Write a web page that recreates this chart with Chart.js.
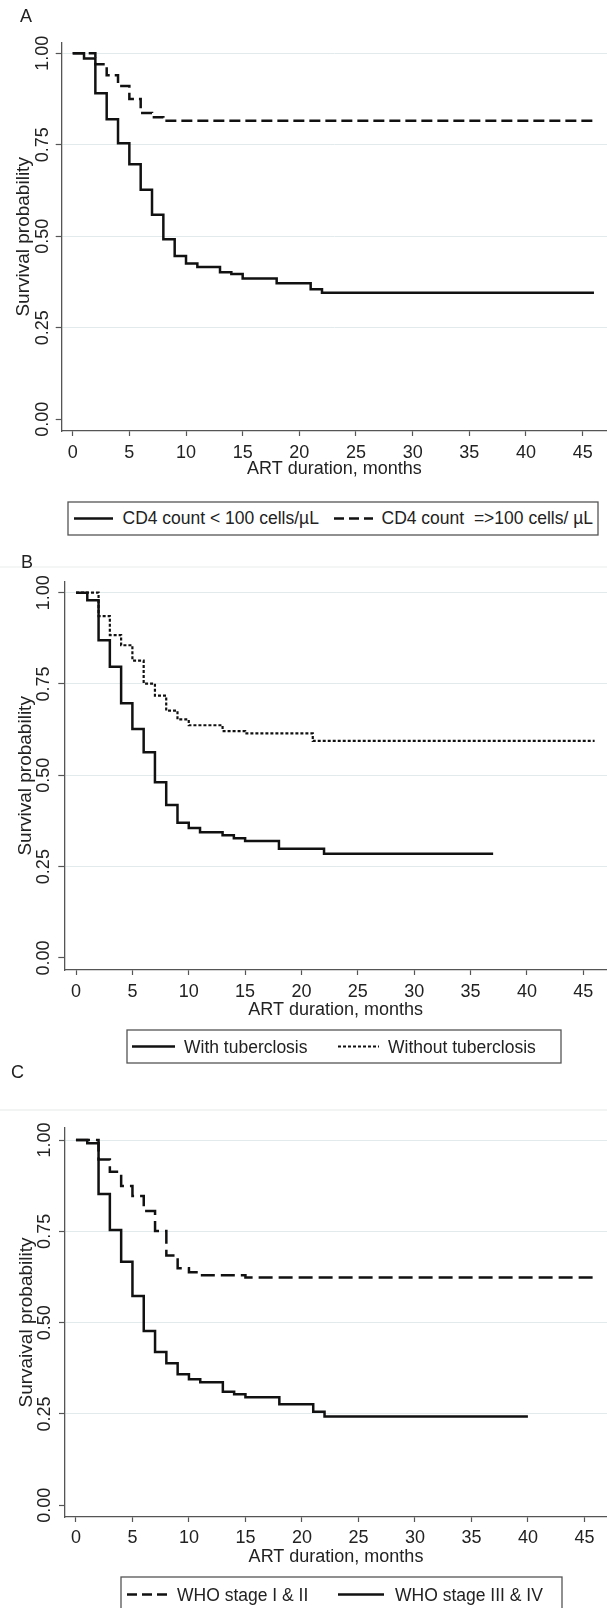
<!DOCTYPE html>
<html>
<head>
<meta charset="utf-8">
<script src="https://cdn.jsdelivr.net/npm/chart.js@4/dist/chart.umd.min.js"></script>
<style>
html,body{margin:0;padding:0;background:#fff;}
body{width:607px;height:1608px;position:relative;overflow:hidden;font-family:"Liberation Sans",Arial,sans-serif;color:#222;}
canvas{position:absolute;left:0;}
.t{position:absolute;font-size:17.5px;line-height:20px;height:20px;white-space:pre;color:#222;}
svg{position:absolute;left:0;top:0;pointer-events:none;}
</style>
</head>
<body>
<script>
// ---------- data ----------
const xTicks = [0, 5, 10, 15, 20, 25, 30, 35, 40, 45];
const yTicks = [0, 0.25, 0.5, 0.75, 1];
const yTickLabels = ['0.00', '0.25', '0.50', '0.75', '1.00'];
const xTitle = 'ART duration, months';

// Panel A
const cd4Low_t = [0, 1, 2, 3, 4, 5, 6, 7, 8, 9, 10, 11, 13, 14, 15, 18, 21, 22, 46];
const cd4Low_s = [1, 0.986, 0.891, 0.820, 0.754, 0.697, 0.627, 0.559, 0.492, 0.446, 0.426, 0.416, 0.402, 0.397, 0.385, 0.372, 0.355, 0.346, 0.346];
const cd4High_t = [0, 2, 3, 4, 5, 6, 7, 8, 46];
const cd4High_s = [1, 0.970, 0.940, 0.911, 0.875, 0.837, 0.825, 0.816, 0.816];
const legendA = ['CD4 count < 100 cells/\u00b5L', 'CD4 count  =>100 cells/ \u00b5L'];

// Panel B
const withTB_t = [0, 1, 2, 3, 4, 5, 6, 7, 8, 9, 10, 11, 13, 14, 15, 18, 22, 37];
const withTB_s = [1, 0.979, 0.870, 0.797, 0.697, 0.627, 0.563, 0.481, 0.419, 0.370, 0.356, 0.344, 0.336, 0.328, 0.320, 0.299, 0.285, 0.285];
const withoutTB_t = [0, 2, 3, 4, 5, 6, 7, 8, 9, 10, 13, 15, 21, 46];
const withoutTB_s = [1, 0.936, 0.884, 0.856, 0.814, 0.751, 0.718, 0.677, 0.653, 0.637, 0.621, 0.615, 0.594, 0.594];
const legendB = ['With tuberclosis', 'Without tuberclosis'];

// Panel C
const who12_t = [0, 2, 3, 4, 5, 6, 7, 8, 9, 10, 11, 15, 46];
const who12_s = [1, 0.947, 0.913, 0.874, 0.847, 0.806, 0.751, 0.684, 0.649, 0.638, 0.630, 0.624, 0.624];
const who34_t = [0, 1, 2, 3, 4, 5, 6, 7, 8, 9, 10, 11, 13, 14, 15, 18, 21, 22, 40];
const who34_s = [1, 0.991, 0.852, 0.754, 0.667, 0.573, 0.477, 0.420, 0.389, 0.359, 0.345, 0.337, 0.311, 0.304, 0.296, 0.277, 0.256, 0.243, 0.243];
const legendC = ['WHO stage I & II', 'WHO stage III & IV'];

const yTitles = ['Survival probability', 'Survival probability', 'Survaival probability'];
const panelLetters = ['A', 'B', 'C'];

// ---------- styles / layout ----------
const FONT = '"Liberation Sans", Arial, sans-serif';
const TXT = '#222';
const AXIS = '#555';
const GRID = '#e2eaec';
const INK = '#111';
const FS = 18;      // tick / axis-title font size
const FS_YT = 19;   // y title font size

function pts(t, s) { return t.map((v, i) => ({ x: v, y: s[i] })); }
function ds(t, s, dash, w) {
  return { data: pts(t, s), borderColor: INK, borderWidth: w || 2.5, borderDash: dash || [],
    stepped: 'before', pointRadius: 0, fill: false, borderCapStyle: 'butt', borderJoinStyle: 'miter' };
}

const panels = [
  { top: 0, chartTop: 42.7, chartBottom: 431, chartLeft: 61.7, xMin: -0.97, xMax: 47.15, yMin: -0.032, yMax: 1.029,
    tickY: 453, titleY: 469.5, yLabelX: 43, yTitleX: 24,
    datasets: [ds(cd4Low_t, cd4Low_s), ds(cd4High_t, cd4High_s, [11, 5])] },
  { top: 540, chartTop: 581.7, chartBottom: 970, chartLeft: 64.3, xMin: -1.04, xMax: 47.1, yMin: -0.033, yMax: 1.030,
    tickY: 992, titleY: 1010.5, yLabelX: 44, yTitleX: 26,
    datasets: [ds(withTB_t, withTB_s), ds(withoutTB_t, withoutTB_s, [3, 2], 2.2)] },
  { top: 1080, chartTop: 1128, chartBottom: 1517, chartLeft: 65, xMin: -0.97, xMax: 47.0, yMin: -0.032, yMax: 1.033,
    tickY: 1538, titleY: 1557, yLabelX: 45, yTitleX: 27,
    datasets: [ds(who12_t, who12_s, [14, 6]), ds(who34_t, who34_s)] }
];

panels.forEach((p, k) => {
  const bottom = p.titleY + 16;
  const H = Math.round(bottom - p.top);
  const c = document.createElement('canvas');
  c.width = 607; c.height = H;
  c.style.top = p.top + 'px'; c.style.width = '607px'; c.style.height = H + 'px';
  document.body.appendChild(c);
  const realBottom = p.top + H;
  const xScaleH = realBottom - p.chartBottom;
  const lh = FS * 1.2;
  new Chart(c, {
    type: 'line',
    data: { datasets: p.datasets },
    options: {
      responsive: false, animation: false, devicePixelRatio: 1,
      layout: { padding: { top: p.chartTop - p.top, left: 0, right: 0, bottom: 0 } },
      plugins: { legend: { display: false }, tooltip: { enabled: false } },
      elements: { point: { radius: 0 }, line: { tension: 0 } },
      scales: {
        x: {
          type: 'linear', min: p.xMin, max: p.xMax,
          afterBuildTicks: s => { s.ticks = xTicks.map(v => ({ value: v })); },
          afterFit: s => { s.height = xScaleH; },
          grid: { drawOnChartArea: false, drawTicks: true, tickLength: 5, tickColor: AXIS, tickWidth: 1.2 },
          border: { display: true, color: AXIS, width: 1.3 },
          ticks: { padding: p.tickY - p.chartBottom - 5 - lh / 2, font: { size: FS, family: FONT }, color: TXT,
            minRotation: 0, maxRotation: 0, autoSkip: false, callback: v => String(v) },
          title: { display: true, text: xTitle, font: { size: FS, family: FONT }, color: TXT,
            padding: { top: 0, bottom: realBottom - p.titleY - lh / 2 } }
        },
        y: {
          type: 'linear', min: p.yMin, max: p.yMax,
          afterBuildTicks: s => { s.ticks = yTicks.map(v => ({ value: v })); },
          afterFit: s => { s.width = p.chartLeft; },
          grid: { color: ctx => (ctx.tick && ctx.tick.value === 0) ? 'rgba(0,0,0,0)' : GRID, lineWidth: 1,
            drawTicks: true, tickLength: 6, tickColor: AXIS, tickWidth: 1.2 },
          border: { display: true, color: AXIS, width: 1.3 },
          ticks: { font: { size: FS, family: FONT }, color: TXT, minRotation: 90, maxRotation: 90, crossAlign: 'center',
            padding: p.chartLeft - 6 - p.yLabelX - 17.5, autoSkip: false,
            callback: v => yTickLabels[yTicks.indexOf(v)] },
          title: { display: true, text: yTitles[k], font: { size: FS_YT, family: FONT }, color: TXT,
            padding: { top: p.yTitleX - FS_YT * 0.6, bottom: 0 } }
        }
      }
    }
  });
});

// ---------- legends (HTML/SVG) ----------
const NS = 'http://www.w3.org/2000/svg';
const svg = document.createElementNS(NS, 'svg');
svg.setAttribute('width', 607); svg.setAttribute('height', 1608);
document.body.appendChild(svg);
function rect(x, y, w, h) {
  const r = document.createElementNS(NS, 'rect');
  r.setAttribute('x', x); r.setAttribute('y', y); r.setAttribute('width', w); r.setAttribute('height', h);
  r.setAttribute('fill', '#fff'); r.setAttribute('stroke', AXIS); r.setAttribute('stroke-width', 1.3);
  svg.appendChild(r);
}
function line(x1, x2, y, dash, w) {
  const l = document.createElementNS(NS, 'line');
  l.setAttribute('x1', x1); l.setAttribute('x2', x2); l.setAttribute('y1', y); l.setAttribute('y2', y);
  l.setAttribute('stroke', INK); l.setAttribute('stroke-width', w || 2.5);
  if (dash) l.setAttribute('stroke-dasharray', dash);
  svg.appendChild(l);
}
function hline(y, color) {
  const r = document.createElementNS(NS, 'rect');
  r.setAttribute('x', 0); r.setAttribute('y', y); r.setAttribute('width', 607); r.setAttribute('height', 2);
  r.setAttribute('fill', color); svg.appendChild(r);
}
function text(str, x, cy, size) {
  const d = document.createElement('div');
  d.className = 't'; d.textContent = str;
  d.style.left = x + 'px'; d.style.top = (cy - 10) + 'px';
  if (size) d.style.fontSize = size + 'px';
  document.body.appendChild(d);
  return d;
}

hline(566, '#f4f5f5');
hline(1109, '#f2f3f3');

// Legend A
rect(68, 502, 530, 33);
line(74, 113, 518.5);
line(334, 373, 518.5, '10,5');
text(legendA[0], 122.5, 518);
text(legendA[1], 381.5, 518);

// Legend B
rect(127, 1030, 434, 33);
line(132, 175, 1046.5);
line(338, 379, 1046.5, '3,2', 2.2);
text(legendB[0], 184, 1047);
text(legendB[1], 388, 1047);

// Legend C
rect(121, 1577, 441, 34);
line(127, 167, 1594.5, '10,5');
line(338, 384, 1594.5);
text(legendC[0], 177, 1595);
text(legendC[1], 395, 1595);

// Panel letters
const letterPos = [[20, 16], [21, 562], [11, 1072]];
panelLetters.forEach((L, i) => { text(L, letterPos[i][0], letterPos[i][1], 18); });
</script>
</body>
</html>
